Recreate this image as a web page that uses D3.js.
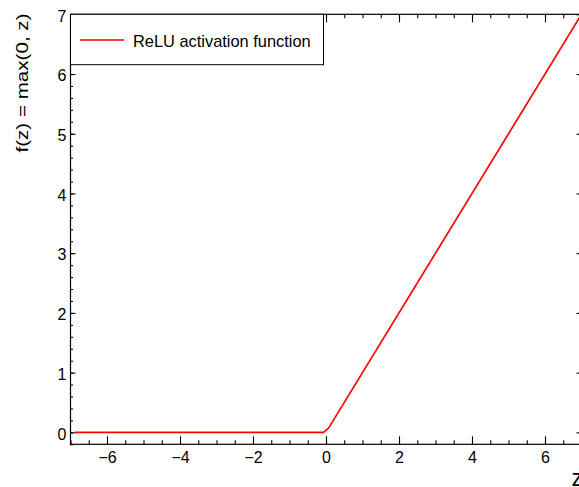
<!DOCTYPE html>
<html>
<head>
<meta charset="utf-8">
<script src="https://cdn.jsdelivr.net/npm/d3@7"></script>
<style>
  html, body { margin: 0; padding: 0; background: #fff; }
  svg { display: block; }
  text { font-family: "Liberation Sans", Arial, Helvetica, sans-serif; fill: #000; }
</style>
</head>
<body>
<svg id="chart" width="579" height="487"></svg>
<script>
// ReLU curve samples (z, f(z))
const zValues = [-6.88, -0.07, 0.07, 7];
const fValues = [0, 0, 0.07, 7];

// Axis ticks
const xMajorTicks = [-6, -4, -2, 0, 2, 4, 6];
const xMinorTicks = [-7, -6.5, -6, -5.5, -5, -4.5, -4, -3.5, -3, -2.5, -2, -1.5, -1, -0.5, 0, 0.5, 1, 1.5, 2, 2.5, 3, 3.5, 4, 4.5, 5, 5.5, 6, 6.5, 7];
const yMajorTicks = [0, 1, 2, 3, 4, 5, 6, 7];
const yMinorTicks = [-0.2, 0, 0.2, 0.4, 0.6, 0.8, 1, 1.2, 1.4, 1.6, 1.8, 2, 2.2, 2.4, 2.6, 2.8, 3, 3.2, 3.4, 3.6, 3.8, 4, 4.2, 4.4, 4.6, 4.8, 5, 5.2, 5.4, 5.6, 5.8, 6, 6.2, 6.4, 6.6, 6.8, 7];

const seriesName = "ReLU activation function";
const xTitle = "z";
const yTitle = "f(z) = max(0, z)";

const svg = d3.select("#chart");

const plotLeft = 70.5, plotRight = 581.5, plotTop = 14.3, plotBottom = 444.3;

const x = d3.scaleLinear().domain([-7, 7]).range([plotLeft, plotRight]);
const y = d3.scaleLinear().domain([-0.2, 7]).range([plotBottom, plotTop]);

const fmt = d3.format("");

function styleAxis(g) {
  g.select(".domain").remove();
  g.selectAll(".tick line").attr("stroke", "#000").attr("stroke-width", 1.1);
  g.selectAll(".tick text").attr("font-size", 16).attr("fill", "#000")
    .attr("font-family", "Liberation Sans, Arial, sans-serif");
}

// Bottom axis: minor then labelled majors, ticks pointing inward
svg.append("g").attr("transform", `translate(0,${plotBottom})`)
  .call(d3.axisBottom(x).tickValues(xMinorTicks).tickSize(-4).tickFormat(""))
  .call(styleAxis);
svg.append("g").attr("transform", `translate(0,${plotBottom})`)
  .call(d3.axisBottom(x).tickValues(xMajorTicks).tickSize(-8).tickPadding(7).tickFormat(fmt))
  .call(styleAxis);

// Top axis (no labels)
svg.append("g").attr("transform", `translate(0,${plotTop})`)
  .call(d3.axisTop(x).tickValues(xMinorTicks).tickSize(-4).tickFormat(""))
  .call(styleAxis);
svg.append("g").attr("transform", `translate(0,${plotTop})`)
  .call(d3.axisTop(x).tickValues(xMajorTicks).tickSize(-8).tickFormat(""))
  .call(styleAxis);

// Left axis
svg.append("g").attr("transform", `translate(${plotLeft},0)`)
  .call(d3.axisLeft(y).tickValues(yMinorTicks).tickSize(-2.5).tickFormat(""))
  .call(styleAxis);
const yAxisG = svg.append("g").attr("transform", `translate(${plotLeft},0)`)
  .call(d3.axisLeft(y).tickValues(yMajorTicks).tickSize(-5).tickPadding(4).tickFormat(fmt))
  .call(styleAxis);
yAxisG.selectAll(".tick text").attr("dy", "0.42em");

// Right axis (no labels)
svg.append("g").attr("transform", `translate(${plotRight},0)`)
  .call(d3.axisRight(y).tickValues(yMinorTicks).tickSize(-2.5).tickFormat(""))
  .call(styleAxis);
svg.append("g").attr("transform", `translate(${plotRight},0)`)
  .call(d3.axisRight(y).tickValues(yMajorTicks).tickSize(-5).tickFormat(""))
  .call(styleAxis);

// Plot frame
svg.append("rect")
  .attr("x", plotLeft).attr("y", plotTop)
  .attr("width", plotRight - plotLeft).attr("height", plotBottom - plotTop)
  .attr("fill", "none").attr("stroke", "#000").attr("stroke-width", 1.2);

// ReLU line
const pts = zValues.map((z, i) => [z, fValues[i]]);
svg.append("path")
  .datum(pts)
  .attr("fill", "none")
  .attr("stroke", "#ff0000")
  .attr("stroke-width", 1.7)
  .attr("stroke-linejoin", "round")
  .attr("d", d3.line().x(d => x(d[0])).y(d => y(d[1])));

// Legend
const lg = svg.append("g");
lg.append("rect")
  .attr("x", plotLeft).attr("y", plotTop)
  .attr("width", 253).attr("height", 50.4)
  .attr("fill", "#fff").attr("stroke", "#000").attr("stroke-width", 1);
lg.append("line")
  .attr("x1", 80).attr("x2", 124).attr("y1", 40).attr("y2", 40)
  .attr("stroke", "#ff0000").attr("stroke-width", 1.7);
lg.append("text")
  .attr("x", 133).attr("y", 46.5)
  .attr("font-size", 16.4)
  .text(seriesName);

// Axis titles
svg.append("text")
  .attr("transform", "translate(27.5,83) rotate(-90)")
  .attr("text-anchor", "middle")
  .attr("font-size", 17)
  .attr("textLength", 139)
  .attr("lengthAdjust", "spacingAndGlyphs")
  .text(yTitle);

svg.append("text")
  .attr("x", 571.5).attr("y", 486)
  .attr("font-size", 23)
  .text(xTitle);
</script>
</body>
</html>
